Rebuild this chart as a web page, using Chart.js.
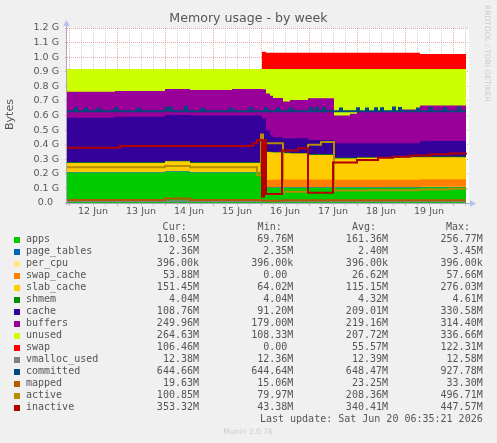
<!DOCTYPE html>
<html>
<head>
<meta charset="utf-8">
<script src="https://cdn.jsdelivr.net/npm/chart.js@4/dist/chart.umd.min.js"></script>
<style>
  html, body { margin: 0; padding: 0; background: #f0f0f0; }
  canvas { display: block; }
</style>
</head>
<body>
<canvas id="memChart" width="497" height="443" style="width:497px;height:443px"></canvas>
<script>
// time in hours from 12 Jun 00:00, values in G
const dayLabels = ['12 Jun', '13 Jun', '14 Jun', '15 Jun', '16 Jun', '17 Jun', '18 Jun', '19 Jun'];

// stacked series share one time axis (each value holds until the next time)
const T = [-1, 23, 48, 60.5, 81.5, 96.5, 98.5, 100.5, 102, 107, 110.5, 119.5, 132.5, 140.5, 144, 165.5, 175.5, 198.5];
const apps       = [.208, .208, .215, .208, .208, .110, .105, .105, .105, .105, .105, .105, .105, .105, .105, .105, .108, .108];
const pageTables = [.0023, .0023, .0023, .0023, .0023, .0023, .0023, .0023, .0023, .0023, .0023, .0023, .0023, .0023, .0023, .0023, .0023, .0023];
const perCpu     = [.0004, .0004, .0004, .0004, .0004, .0004, .0004, .0004, .0004, .0004, .0004, .0004, .0004, .0004, .0004, .0004, .0004, .0004];
const swapCache  = [0, 0, 0, 0, 0, .045, .050, .052, .054, .054, .054, .054, .052, .052, .052, .052, .0526, .0526];
const slabCache  = [.064, .064, .068, .064, .064, .194, .192, .188, .184, .180, .178, .168, .146, .146, .150, .154, .151, .151];
const shmem      = [.0045, .0045, .0045, .0045, .0045, .004, .004, .004, .004, .004, .004, .004, .004, .004, .004, .004, .004, .004];
const cache      = [.3055, .3125, .3135, .3215, .3215, .224, .146, .113, .102, .096, .100, .098, .100, .100, .096, .092, .106, .106];
const buffers    = [.178, .176, .178, .174, .181, .200, .252, .270, .268, .255, .262, .286, .190, .202, .220, .232, .244, .244];
const unused     = [.156, .151, .137, .144, .137, .139, .167, .184, .199, .222, .213, .201, .319, .307, .289, .277, .251, .251];
const swap       = [0, 0, 0, 0, 0, .119, .112, .112, .112, .112, .112, .112, .112, .112, .112, .112, .103, .103];

// line series, each with its own times
const vmT = [-1, 198.5];
const vmallocUsed = [.012, .012];
const cmT = [-1, 3, 4, 8, 9, 14.5, 15.5, 23, 24, 34.5, 35.5, 48.5, 49.5, 50.5, 51.5, 58, 59, 66.5, 67.5, 80.5, 81.5, 90.5, 91.5,
  98, 99, 104, 105, 110.5, 111.5, 120.5, 121.5, 123.5, 124.5, 127, 128, 135.5, 136.5, 144, 145, 148.5, 149.5, 153, 154,
  156, 157, 162, 163, 165, 166, 174, 175, 180.5, 181.5, 187.5, 188.5, 194.5, 195.5, 198.5];
const committed = [.63, .65, .63, .648, .63, .648, .63, .65, .63, .648, .63, .655, .635, .652, .63, .66, .63, .648, .63, .65, .63, .652, .63,
  .65, .63, .648, .63, .65, .63, .652, .63, .655, .63, .652, .63, .648, .63, .65, .63, .648, .63, .65, .63,
  .65, .63, .655, .63, .652, .63, .648, .63, .652, .63, .65, .63, .655, .63, .63];
const mpT = [-1, 48, 60.5, 96.5, 107, 198.5];
const mapped = [.020, .031, .020, .016, .019, .019];
const acT = [-1, 48, 60.5, 94, 96, 97, 98.5, 107, 119.5, 126, 132.5, 150, 175, 190, 198.5];
const active = [.245, .254, .245, .19, .47, .10, .41, .078, .40, .418, .085, .088, .092, .097, .098];
const inT = [-1, 25.5, 92, 94, 96.5, 97.5, 98.5, 106.5, 114.5, 119.5, 132, 144, 154.5, 162, 170.5, 180.5, 190.5, 198.5];
const inactive = [.379, .391, .41, .432, .043, .43, .062, .36, .375, .071, .277, .295, .31, .318, .325, .334, .34, .345];

// legend table
const names = ['apps', 'page_tables', 'per_cpu', 'swap_cache', 'slab_cache', 'shmem', 'cache', 'buffers', 'unused', 'swap',
  'vmalloc_used', 'committed', 'mapped', 'active', 'inactive'];
const colors = ['#00CC00', '#0066B3', '#FFE680', '#FF8000', '#FFCC00', '#008F00', '#330099', '#990099', '#CCFF00', '#FF0000',
  '#808080', '#00487D', '#B35A00', '#B38F00', '#B30000'];
const curVals = ['110.65M', '2.36M', '396.00k', '53.88M', '151.45M', '4.04M', '108.76M', '249.96M', '264.63M', '106.46M', '12.38M', '644.66M', '19.63M', '100.85M', '353.32M'];
const minVals = ['69.76M', '2.35M', '396.00k', '0.00 ', '64.02M', '4.04M', '91.20M', '179.00M', '108.33M', '0.00 ', '12.36M', '644.64M', '15.06M', '79.97M', '43.38M'];
const avgVals = ['161.36M', '2.40M', '396.00k', '26.62M', '115.15M', '4.32M', '209.01M', '219.16M', '207.72M', '55.57M', '12.39M', '648.47M', '23.25M', '208.36M', '340.41M'];
const maxVals = ['256.77M', '3.45M', '396.00k', '57.66M', '276.03M', '4.61M', '330.58M', '314.40M', '336.66M', '122.31M', '12.58M', '927.78M', '33.30M', '496.71M', '447.57M'];

const TEXT = '#555555';
const GRID_MAJOR = 'rgba(225,110,110,0.6)';
const GRID_MINOR = 'rgba(150,150,150,0.45)';

function pts(xs, ys) {
    return xs.map((x, i) => ({ x: x, y: ys[i] }));
}

const stacked = [apps, pageTables, perCpu, swapCache, slabCache, shmem, cache, buffers, unused, swap];
const datasets = stacked.map((vals, i) => ({
    label: names[i],
    data: pts(T, vals),
    yAxisID: 'y',
    backgroundColor: colors[i],
    borderWidth: 0,
    fill: 'origin',
    stepped: 'before',
    pointRadius: 0,
    order: 0
}));

// vmalloc_used, committed, mapped, active, inactive drawn on top, inactive last
const lineSets = [
    [vmT, vmallocUsed, 10, -1],
    [cmT, committed, 11, -2],
    [mpT, mapped, 12, -3],
    [acT, active, 13, -4],
    [inT, inactive, 14, -5]
];
lineSets.forEach(([xs, ys, ci, ord]) => {
    datasets.push({
        label: names[ci],
        data: pts(xs, ys),
        yAxisID: 'y2',
        borderColor: colors[ci],
        borderWidth: 2,
        fill: false,
        stepped: 'before',
        pointRadius: 0,
        order: ord
    });
});

// background, axes and all the rrdtool-style text
const munin = {
    id: 'munin',
    beforeDraw(chart) {
        const { ctx, chartArea: a } = chart;
        ctx.save();
        ctx.fillStyle = '#f0f0f0';
        ctx.fillRect(0, 0, chart.width, chart.height);
        ctx.fillStyle = '#ffffff';
        ctx.fillRect(a.left, a.top, a.right - a.left, a.bottom - a.top);
        ctx.restore();
    },
    afterDraw(chart) {
        const { ctx, chartArea: a } = chart;
        ctx.save();
        // axes with arrows
        ctx.strokeStyle = '#a8a8c0';
        ctx.lineWidth = 1;
        ctx.beginPath();
        ctx.moveTo(a.left - 0.5, a.bottom + 0.5);
        ctx.lineTo(a.right + 2, a.bottom + 0.5);
        ctx.moveTo(a.left - 0.5, a.bottom + 2);
        ctx.lineTo(a.left - 0.5, a.top - 3);
        ctx.stroke();
        ctx.fillStyle = '#b8c0f0';
        ctx.beginPath();
        ctx.moveTo(a.right + 7, a.bottom + 0.5);
        ctx.lineTo(a.right + 1, a.bottom - 3);
        ctx.lineTo(a.right + 1, a.bottom + 4);
        ctx.fill();
        ctx.beginPath();
        ctx.moveTo(a.left - 0.5, a.top - 8);
        ctx.lineTo(a.left - 4, a.top - 2);
        ctx.lineTo(a.left + 3, a.top - 2);
        ctx.fill();

        // title
        ctx.fillStyle = TEXT;
        ctx.textBaseline = 'middle';
        ctx.textAlign = 'center';
        ctx.font = '12.6px "DejaVu Sans"';
        ctx.fillText('Memory usage - by week', 248.5, 19);

        // y axis title
        ctx.save();
        ctx.translate(10, 114.5);
        ctx.rotate(-Math.PI / 2);
        ctx.font = '11px "DejaVu Sans"';
        ctx.fillText('Bytes', 0, 0);
        ctx.restore();

        // watermark
        ctx.save();
        ctx.translate(487, 5);
        ctx.rotate(Math.PI / 2);
        ctx.textAlign = 'left';
        ctx.fillStyle = '#cccccc';
        ctx.font = '7.5px "DejaVu Sans"';
        ctx.fillText('RRDTOOL / TOBI OETIKER', 0, 0);
        ctx.restore();

        // legend table
        ctx.font = '10px "DejaVu Sans Mono"';
        ctx.textAlign = 'right';
        ctx.fillText('Cur:', 186.7, 227.3);
        ctx.fillText('Min:', 281.7, 227.3);
        ctx.fillText('Avg:', 376, 227.3);
        ctx.fillText('Max:', 470, 227.3);
        names.forEach((n, i) => {
            const y = 239.7 + 12 * i;
            ctx.fillStyle = colors[i];
            ctx.fillRect(14, Math.round(y) - 3, 6, 6);
            ctx.fillStyle = TEXT;
            ctx.textAlign = 'left';
            ctx.fillText(n, 26, y);
            ctx.textAlign = 'right';
            ctx.fillText(curVals[i], 199, y);
            ctx.fillText(minVals[i], 293.3, y);
            ctx.fillText(avgVals[i], 388, y);
            ctx.fillText(maxVals[i], 482.7, y);
        });
        ctx.fillText('Last update: Sat Jun 20 06:35:21 2026', 482.7, 419.3);

        ctx.textAlign = 'center';
        ctx.fillStyle = '#cccccc';
        ctx.font = '7.6px "DejaVu Sans"';
        ctx.fillText('Munin 2.0.76', 248, 432.3);
        ctx.restore();
    }
};

new Chart(document.getElementById('memChart').getContext('2d'), {
    type: 'line',
    data: { datasets: datasets },
    plugins: [munin],
    options: {
        responsive: false,
        animation: false,
        devicePixelRatio: 1,
        layout: { padding: { left: 0, top: 28, right: 28, bottom: 220 } },
        plugins: { legend: { display: false }, tooltip: { enabled: false }, title: { display: false } },
        elements: { line: { tension: 0 }, point: { radius: 0 } },
        scales: {
            x: {
                type: 'linear',
                min: -1,
                max: 200,
                z: 1,
                afterFit(s) { s.height = 20; },
                afterBuildTicks(s) {
                    const ticks = [];
                    for (let h = 0; h <= 198; h += 6) ticks.push({ value: h });
                    s.ticks = ticks;
                },
                ticks: {
                    autoSkip: false,
                    maxRotation: 0,
                    padding: 0,
                    color: TEXT,
                    font: { family: 'DejaVu Sans', size: 9.5 },
                    callback: (v) => (v % 24 === 12 ? dayLabels[(v - 12) / 24] || '' : '')
                },
                grid: {
                    color: (c) => (c.tick && c.tick.value % 24 === 0 ? GRID_MAJOR : GRID_MINOR),
                    lineWidth: 1,
                    tickLength: 3
                },
                border: { display: false, dash: [1, 1] }
            },
            y: {
                stacked: true,
                min: 0,
                max: 1.2,
                z: 1,
                afterFit(s) { s.width = 67; },
                ticks: {
                    stepSize: 0.1,
                    padding: 6,
                    color: TEXT,
                    font: { family: 'DejaVu Sans', size: 9.5 },
                    callback: (v) => (Math.abs(v) < 1e-9 ? '0.0  ' : v.toFixed(1) + ' G')
                },
                grid: { color: GRID_MAJOR, lineWidth: 1, tickLength: 2 },
                border: { display: false, dash: [1, 1] }
            },
            y2: {
                display: false,
                min: 0,
                max: 1.2
            }
        }
    }
});
</script>
</body>
</html>
